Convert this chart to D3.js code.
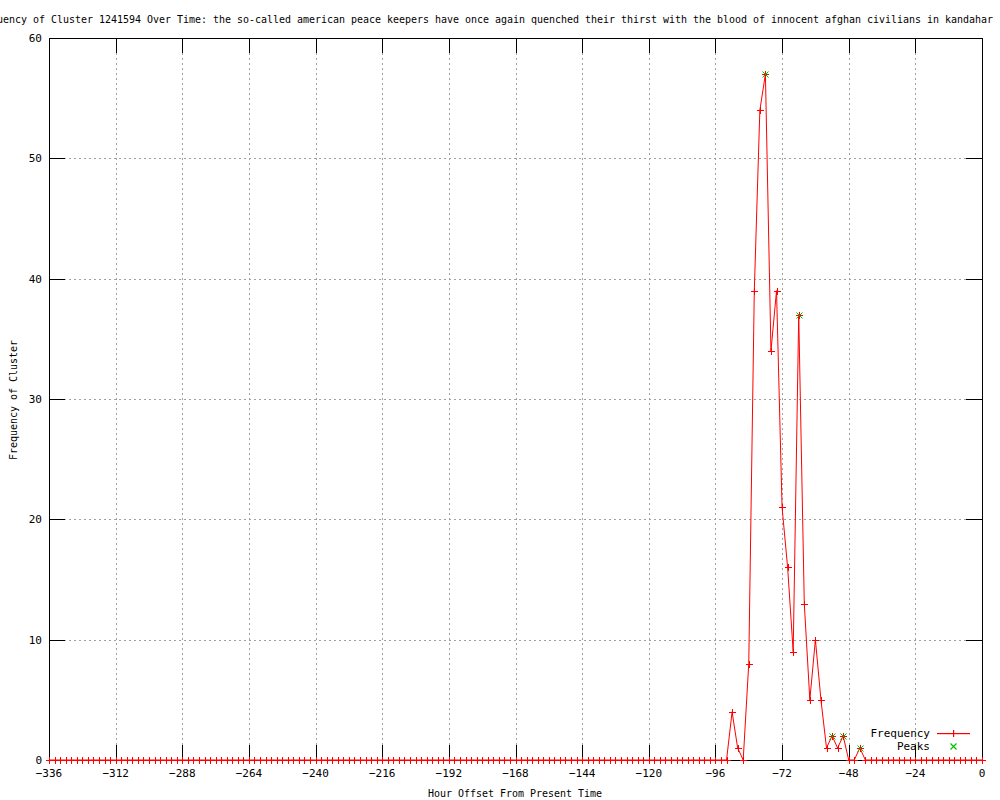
<!DOCTYPE html>
<html>
<head>
<meta charset="utf-8">
<script src="https://cdn.jsdelivr.net/npm/d3@7"></script>
<style>
  body { margin: 0; background: #fff; }
  text { font-family: "DejaVu Sans Mono", "Liberation Mono", monospace; font-size: 11px; fill: #000; }
</style>
</head>
<body>
<div id="chart"></div>
<script>
// hour offsets, one every 2 hours
const hours = d3.range(-336, 1, 2);

// frequency per hour offset (-336 .. 0)
const frequency = [
  0,0,0,0,0,0,0,0,0,0, 0,0,0,0,0,0,0,0,0,0,
  0,0,0,0,0,0,0,0,0,0, 0,0,0,0,0,0,0,0,0,0,
  0,0,0,0,0,0,0,0,0,0, 0,0,0,0,0,0,0,0,0,0,
  0,0,0,0,0,0,0,0,0,0, 0,0,0,0,0,0,0,0,0,0,
  0,0,0,0,0,0,0,0,0,0, 0,0,0,0,0,0,0,0,0,0,
  0,0,0,0,0,0,0,0,0,0, 0,0,0,0,0,0,0,0,0,0,
  0,0,                       // -94
  0, 4, 1, 0, 8, 39, 54, 57, 34, 39, 21, 16, 9, 37, 13, 5, 10, 5, 1, 2, 1, 2, 0, 0, 1, // -92 .. -44
  0,0,0,0,0,0,0,0,0,0, 0,0,0,0,0,0,0,0,0,0, 0,0  // -42 .. 0
];

const peakHours = [-78, -66, -54, -50, -44];
const peakValues = [57, 37, 2, 2, 1];

const xTicks = [-336, -312, -288, -264, -240, -216, -192, -168, -144, -120, -96, -72, -48, -24, 0];
const yTicks = [0, 10, 20, 30, 40, 50, 60];

const title = "Frequency of Cluster 1241594 Over Time: the so-called american peace keepers have once again quenched their thirst with the blood of innocent afghan civilians in kandahar";

const width = 1000, height = 800;
const margin = {top: 38, right: 18, bottom: 40, left: 49};
const RED = "#ff0000", GREEN = "#00c000";

const svg = d3.select("#chart").append("svg")
  .attr("width", width).attr("height", height);

const x = d3.scaleLinear().domain([-336, 0]).range([margin.left, width - margin.right]);
const y = d3.scaleLinear().domain([0, 60]).range([height - margin.bottom, margin.top]);

const px = v => Math.round(v) + 0.5;
const L = margin.left, R = width - margin.right, T = margin.top, B = height - margin.bottom;

// grid
const grid = svg.append("g").attr("stroke", "#a0a0a0").attr("stroke-dasharray", "2,3").attr("shape-rendering", "crispEdges");
grid.selectAll(".gx").data(xTicks.slice(1, -1)).join("line")
  .attr("x1", d => px(x(d))).attr("x2", d => px(x(d))).attr("y1", T).attr("y2", B);
grid.selectAll(".gy").data(yTicks.slice(1, -1)).join("line")
  .attr("y1", d => px(y(d))).attr("y2", d => px(y(d))).attr("x1", L).attr("x2", R);

// ticks (mirrored)
const tk = svg.append("g").attr("stroke", "#000").attr("shape-rendering", "crispEdges");
tk.selectAll(".tb").data(xTicks).join("line")
  .attr("x1", d => px(x(d))).attr("x2", d => px(x(d))).attr("y1", B).attr("y2", B - 15);
tk.selectAll(".tt").data(xTicks).join("line")
  .attr("x1", d => px(x(d))).attr("x2", d => px(x(d))).attr("y1", T).attr("y2", T + 15);
tk.selectAll(".tl").data(yTicks).join("line")
  .attr("y1", d => px(y(d))).attr("y2", d => px(y(d))).attr("x1", L).attr("x2", L + 16);
tk.selectAll(".tr").data(yTicks).join("line")
  .attr("y1", d => px(y(d))).attr("y2", d => px(y(d))).attr("x1", R).attr("x2", R - 16);

// tick labels
svg.append("g").selectAll("text").data(xTicks).join("text")
  .attr("x", d => x(d)).attr("y", B + 17)
  .attr("text-anchor", "middle")
  .text(d => d < 0 ? "\u2212" + Math.abs(d) : d);
svg.append("g").selectAll("text").data(yTicks).join("text")
  .attr("x", L - 7).attr("y", d => y(d) + 4)
  .attr("text-anchor", "end")
  .text(d => d);

// data line
const pts = hours.map((h, i) => [h, frequency[i]]);
svg.append("path").datum(pts)
  .attr("fill", "none").style("stroke", RED).attr("stroke-width", 1)
  .attr("d", d3.line().x(d => x(d[0])).y(d => y(d[1])));

// border
svg.append("rect").attr("x", L + 0.5).attr("y", T + 0.5)
  .attr("width", R - L).attr("height", B - T)
  .attr("fill", "none").attr("stroke", "#000").attr("shape-rendering", "crispEdges");

// plus markers
const plus = (sel, cx, cy) => sel.append("path")
  .attr("d", `M${cx - 3.5},${cy}H${cx + 3.5}M${cx},${cy - 3.5}V${cy + 3.5}`)
  .style("stroke", RED).style("fill", "none").attr("shape-rendering", "crispEdges");
const pm = svg.append("g");
pts.forEach(d => plus(pm, px(x(d[0])), px(y(d[1]))));

// peak markers (x)
const cross = (sel, cx, cy) => sel.append("path")
  .attr("d", `M${cx - 3},${cy - 3}L${cx + 3},${cy + 3}M${cx - 3},${cy + 3}L${cx + 3},${cy - 3}`)
  .style("stroke", GREEN).style("fill", "none");
const gm = svg.append("g");
peakHours.forEach((h, i) => cross(gm, px(x(h)), px(y(peakValues[i]))));

// title
svg.append("text").attr("x", 993).attr("y", 23).attr("text-anchor", "end")
  .attr("textLength", 1020).attr("lengthAdjust", "spacingAndGlyphs").text(title);

// axis labels
svg.append("text").attr("x", 515).attr("y", 797).attr("text-anchor", "middle")
  .attr("textLength", 174).attr("lengthAdjust", "spacingAndGlyphs")
  .text("Hour Offset From Present Time");
svg.append("text").attr("transform", "translate(17,400) rotate(-90)").attr("text-anchor", "middle")
  .attr("textLength", 120).attr("lengthAdjust", "spacingAndGlyphs")
  .text("Frequency of Cluster");

// legend
const lg = svg.append("g");
lg.append("text").attr("x", 930).attr("y", 737).attr("text-anchor", "end").text("Frequency");
lg.append("rect").attr("x", 937).attr("y", 733).attr("width", 33).attr("height", 1.2)
  .style("fill", RED).style("stroke", "none");
lg.append("rect").attr("x", 953).attr("y", 730).attr("width", 1.2).attr("height", 7)
  .style("fill", RED).style("stroke", "none");
lg.append("text").attr("x", 930).attr("y", 750).attr("text-anchor", "end").text("Peaks");
cross(lg, 953.5, 746.5).style("stroke-width", 1.2);
</script>
</body>
</html>
